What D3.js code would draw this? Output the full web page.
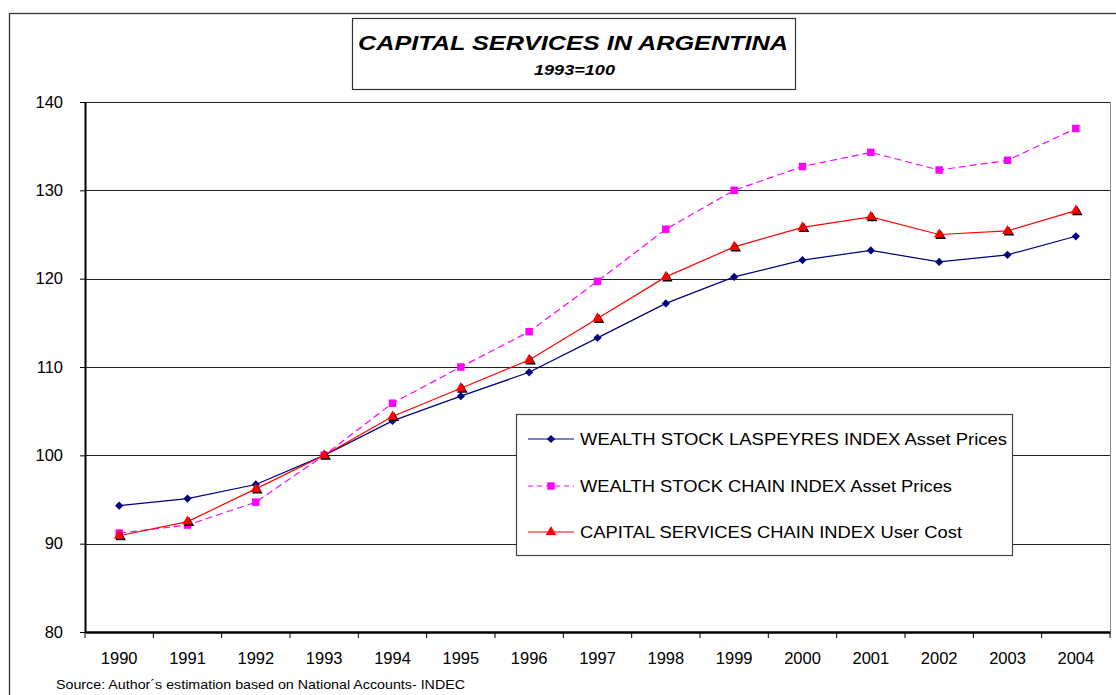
<!DOCTYPE html>
<html>
<head>
<meta charset="utf-8">
<script src="https://cdn.jsdelivr.net/npm/d3@7"></script>
<style>
  body { margin: 0; background: #fff; }
  svg { display: block; font-family: "Liberation Sans", Arial, sans-serif; }
</style>
</head>
<body>
<svg id="chart" width="1116" height="695"></svg>
<script>
// Chart data
const years = ["1990", "1991", "1992", "1993", "1994", "1995", "1996", "1997",
               "1998", "1999", "2000", "2001", "2002", "2003", "2004"];
const laspeyres = [94.3, 95.1, 96.7, 100, 103.9, 106.7, 109.4, 113.3, 117.2, 120.2, 122.1, 123.2, 121.9, 122.7, 124.8];
const wealthChain = [91.2, 92.1, 94.7, 100, 105.9, 110.0, 114.0, 119.7, 125.6, 130.0, 132.7, 134.3, 132.3, 133.4, 137.0];
const userCost = [90.9, 92.5, 96.2, 100, 104.4, 107.6, 110.8, 115.5, 120.2, 123.6, 125.8, 127.0, 125.0, 125.4, 127.7];
const yTicks = [80, 90, 100, 110, 120, 130, 140];
const seriesNames = [
    "WEALTH STOCK LASPEYRES INDEX Asset Prices",
    "WEALTH STOCK CHAIN INDEX Asset Prices",
    "CAPITAL SERVICES CHAIN INDEX User Cost"
];

const svg = d3.select("#chart");

// Plot area
const plot = { left: 85, right: 1110, top: 102, bottom: 632 };

const x = d3.scaleBand().domain(years).range([plot.left, plot.right]);
const y = d3.scaleLinear().domain([80, 140]).range([plot.bottom, plot.top]);
const cx = d => x(d) + x.bandwidth() / 2;

// Outer frame
svg.append("rect")
    .attr("x", 9.5).attr("y", 13.5).attr("width", 1120).attr("height", 700)
    .attr("fill", "none").attr("stroke", "#333").attr("stroke-width", 1.3);

// Gridlines
svg.append("g")
    .selectAll("line")
    .data(yTicks.filter(t => t > 80))
    .join("line")
    .attr("x1", plot.left).attr("x2", plot.right)
    .attr("y1", d => Math.round(y(d)) + 0.5).attr("y2", d => Math.round(y(d)) + 0.5)
    .attr("stroke", "#222").attr("stroke-width", 1);

// Right edge of plot
svg.append("line")
    .attr("x1", plot.right + 0.5).attr("x2", plot.right + 0.5)
    .attr("y1", plot.top).attr("y2", plot.bottom)
    .attr("stroke", "#888");

// Y axis
const yAxis = svg.append("g")
    .attr("transform", `translate(${plot.left},0)`)
    .call(d3.axisLeft(y).tickValues(yTicks).tickSize(5).tickSizeOuter(0).tickPadding(17));
yAxis.select(".domain").attr("stroke", "#000").attr("stroke-width", 2);
yAxis.selectAll(".tick line").attr("stroke", "#000");
yAxis.selectAll(".tick text").attr("font-size", 16.5).attr("fill", "#000")
    .attr("font-family", "Liberation Sans, Arial, sans-serif");

// X axis
const xAxis = svg.append("g")
    .attr("transform", `translate(0,${plot.bottom})`)
    .call(d3.axisBottom(x).tickSize(0).tickSizeOuter(0).tickPadding(20));
xAxis.select(".domain").attr("stroke", "#000").attr("stroke-width", 2.5);
xAxis.selectAll(".tick text").attr("font-size", 16.5).attr("fill", "#000")
    .attr("font-family", "Liberation Sans, Arial, sans-serif");
xAxis.selectAll(".bound")
    .data(d3.range(years.length + 1))
    .join("line")
    .attr("class", "bound")
    .attr("x1", i => plot.left + i * x.step()).attr("x2", i => plot.left + i * x.step())
    .attr("y1", 0).attr("y2", 6)
    .attr("stroke", "#000");

// Lines
const line = d3.line().x((d, i) => cx(years[i])).y(d => y(d));

svg.append("path").datum(laspeyres).attr("d", line)
    .attr("fill", "none").attr("stroke", "#000080").attr("stroke-width", 1.2);
svg.append("path").datum(wealthChain).attr("d", line)
    .attr("fill", "none").attr("stroke", "#ff00ff").attr("stroke-width", 1.2)
    .attr("stroke-dasharray", "7,4");
svg.append("path").datum(userCost).attr("d", line)
    .attr("fill", "none").attr("stroke", "#ff0000").attr("stroke-width", 1.2);

// Markers (diamond = rotated square)
const diamond = d3.symbol().type(d3.symbolSquare).size(34);
const square = d3.symbol().type(d3.symbolSquare).size(56);
const triangle = d3.symbol().type(d3.symbolTriangle).size(48);

svg.append("g").selectAll("path").data(laspeyres).join("path")
    .attr("d", diamond)
    .attr("transform", (d, i) => `translate(${cx(years[i])},${y(d)}) rotate(45)`)
    .attr("fill", "#000080");
svg.append("g").selectAll("path").data(wealthChain).join("path")
    .attr("d", square)
    .attr("transform", (d, i) => `translate(${cx(years[i])},${y(d)})`)
    .attr("fill", "#ff00ff");
svg.append("g").selectAll("path").data(userCost).join("path")
    .attr("d", triangle)
    .attr("transform", (d, i) => `translate(${cx(years[i]) + 1.5},${y(d) + 1.5})`)
    .attr("fill", "#000");
svg.append("g").selectAll("path").data(userCost).join("path")
    .attr("d", triangle)
    .attr("transform", (d, i) => `translate(${cx(years[i])},${y(d)})`)
    .attr("fill", "#ff0000");

// Legend
const legend = svg.append("g");
legend.append("rect")
    .attr("x", 516.5).attr("y", 414.5).attr("width", 496).attr("height", 141)
    .attr("fill", "#fff").attr("stroke", "#444").attr("stroke-width", 1.2);

const legendRows = [
    { name: seriesNames[0], color: "#000080", dash: null, sym: diamond, rot: 45 },
    { name: seriesNames[1], color: "#ff00ff", dash: "5,4", sym: square, rot: 0 },
    { name: seriesNames[2], color: "#ff0000", dash: null, sym: triangle, rot: 0 }
];
const legendWidths = [427, 372, 382];
const rowY = [439, 486, 532];

legendRows.forEach((r, i) => {
    const g = legend.append("g").attr("transform", `translate(0,${rowY[i]})`);
    g.append("line").attr("x1", 528).attr("x2", 574).attr("y1", 0).attr("y2", 0)
        .attr("stroke", r.color).attr("stroke-width", 1.2)
        .attr("stroke-dasharray", r.dash);
    g.append("path").attr("d", r.sym).attr("transform", `translate(551,0) rotate(${r.rot})`)
        .attr("fill", r.color);
    g.append("text").attr("x", 580).attr("y", 6)
        .attr("font-size", 17).attr("fill", "#000")
        .attr("textLength", legendWidths[i]).attr("lengthAdjust", "spacingAndGlyphs")
        .text(r.name);
});

// Title box
svg.append("rect")
    .attr("x", 352.5).attr("y", 18.5).attr("width", 443).attr("height", 71)
    .attr("fill", "#fff").attr("stroke", "#333").attr("stroke-width", 1.2);
svg.append("text")
    .attr("x", 358).attr("y", 50)
    .attr("font-size", 21).attr("font-weight", "bold").attr("font-style", "italic")
    .attr("textLength", 430).attr("lengthAdjust", "spacingAndGlyphs")
    .text("CAPITAL SERVICES IN ARGENTINA");
svg.append("text")
    .attr("x", 534).attr("y", 75)
    .attr("font-size", 14).attr("font-weight", "bold").attr("font-style", "italic")
    .attr("textLength", 81).attr("lengthAdjust", "spacingAndGlyphs")
    .text("1993=100");

// Source note
svg.append("text")
    .attr("x", 56).attr("y", 689)
    .attr("font-size", 13).attr("fill", "#000")
    .attr("textLength", 409).attr("lengthAdjust", "spacingAndGlyphs")
    .text("Source: Author\u00b4s estimation based on National Accounts- INDEC");
</script>
</body>
</html>
